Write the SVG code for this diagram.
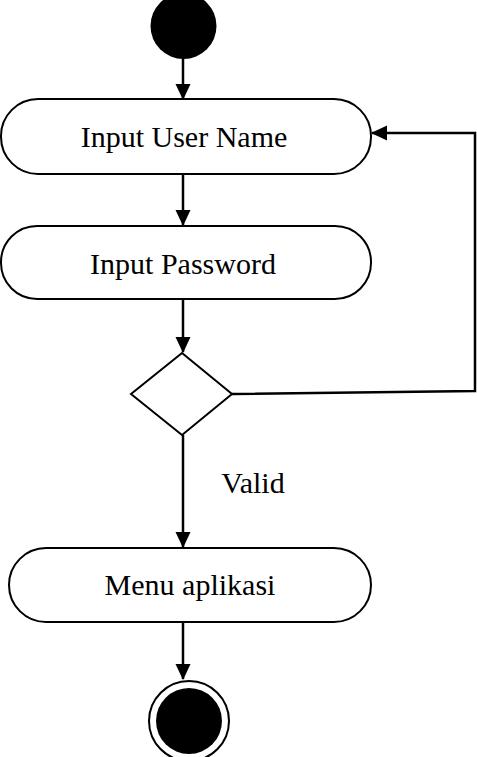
<svg xmlns="http://www.w3.org/2000/svg" width="477" height="757" viewBox="0 0 477 757">
<defs>
<style>
.act{fill:#fff;stroke:#000;stroke-width:2}
.lbl{font-family:"Liberation Serif","Times New Roman",serif;font-size:30px;fill:#000;text-anchor:middle}
.con{fill:none;stroke:#000;stroke-width:2.5}
</style>
<marker id="ah" markerWidth="16" markerHeight="16" refX="15" refY="8" orient="auto" markerUnits="userSpaceOnUse" viewBox="0 0 16 16">
<path d="M0,0.5 L16,8 L0,15.5 Z" fill="#000"/>
</marker>
</defs>
<g id="connectors">
<line class="con" x1="183" y1="58" x2="183" y2="99" marker-end="url(#ah)"/>
<line class="con" x1="183" y1="174" x2="183" y2="225" marker-end="url(#ah)"/>
<line class="con" x1="183" y1="299" x2="183" y2="352" marker-end="url(#ah)"/>
<polyline class="con" points="232,394 475,391 475,133 372,133" marker-end="url(#ah)"/>
<line class="con" x1="183" y1="435" x2="183" y2="547" marker-end="url(#ah)"/>
<line class="con" x1="183" y1="622" x2="183" y2="679" marker-end="url(#ah)"/>
</g>
<g id="start"><circle cx="183.5" cy="26" r="33" fill="#000"/></g>
<g id="input-user-name">
<rect class="act" x="1" y="99" width="370" height="75" rx="37" ry="37"/>
<text class="lbl" x="184" y="147">Input User Name</text>
</g>
<g id="input-password">
<rect class="act" x="1" y="226" width="370" height="73" rx="36" ry="36"/>
<text class="lbl" x="183" y="274">Input Password</text>
</g>
<g id="decision">
<polygon class="act" points="182,353 232,394 182,435 131,394"/>
</g>
<text class="lbl" x="253" y="493">Valid</text>
<g id="menu-aplikasi">
<rect class="act" x="9" y="548" width="362" height="74" rx="37" ry="37"/>
<text class="lbl" x="190" y="595">Menu aplikasi</text>
</g>
<g id="end">
<circle cx="189" cy="721" r="40" fill="#fff" stroke="#000" stroke-width="2"/>
<circle cx="189" cy="721" r="33" fill="#000"/>
</g>
</svg>
